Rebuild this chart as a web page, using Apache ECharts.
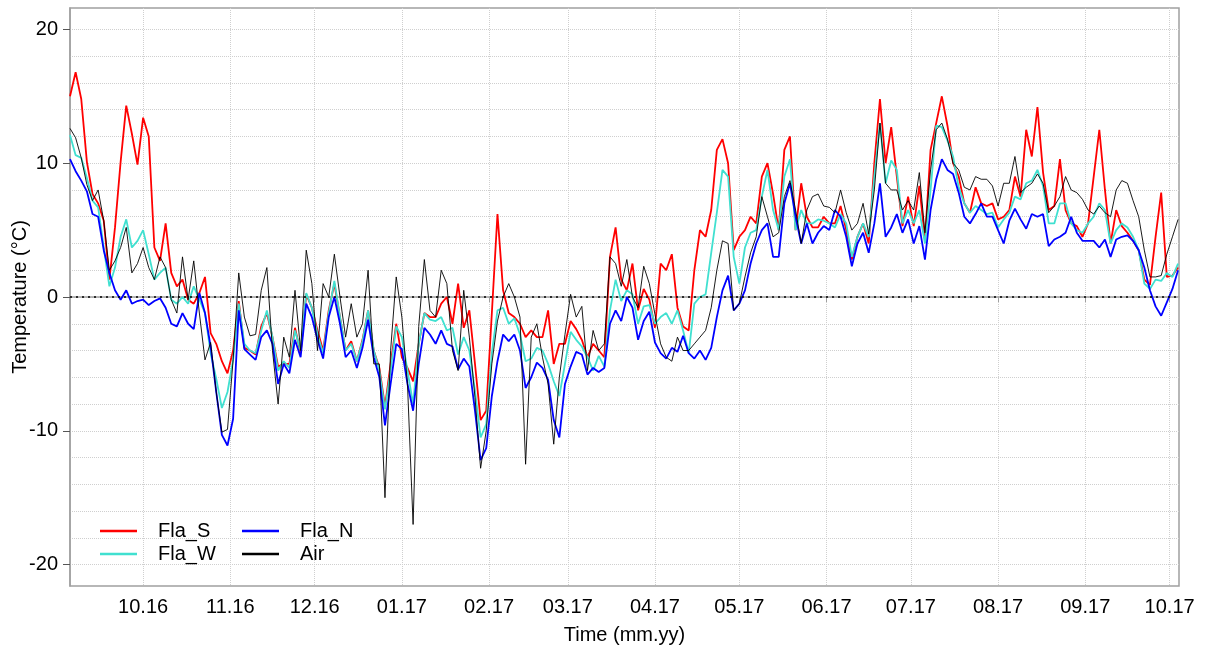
<!DOCTYPE html>
<html>
<head>
<meta charset="utf-8">
<script src="https://cdn.jsdelivr.net/npm/echarts@6/dist/echarts.min.js"></script>
<style>
  html, body { margin: 0; padding: 0; background: #fff; }
  #chart { width: 1205px; height: 649px; }
</style>
</head>
<body>
<div id="chart"></div>
<script>
// daily means, one reading every 2 days starting 05.09.2016
const startDay = Date.UTC(2016, 8, 5);
const endDay = Date.UTC(2017, 9, 4, 8);
const stepDays = 2;

const flaS = [
  15, 16.8, 14.8, 10.1, 7.7, 7, 5.7, 1.3, 5.2, 10.1,
  14.3, 12.2, 9.9, 13.4, 12, 3.7, 2.7, 5.5, 1.8, 0.8,
  1.3, -0.2, -0.5, 0.3, 1.5, -2.7, -3.5, -4.8, -5.7, -4,
  -0.3, -3.8, -4, -4.3, -2.2, -1.2, -3, -5.2, -5, -5,
  -2.3, -4.2, 0.2, -0.8, -2.5, -4, -1, 1, -1.5, -4,
  -3.3, -4.8, -3.2, -1, -4, -5.3, -8.2, -5, -2, -4.5,
  -5.3, -6.3, -3.5, -1.2, -1.5, -1.5, -0.5, 0, -2, 1,
  -2.3, -1, -5, -9.2, -8.5, -1.2, 6.2, 0.5, -1.2, -1.5,
  -2, -3, -2.5, -3, -3, -1, -5, -3.5, -3.5, -1.8,
  -2.4, -3.2, -4.5, -3.5, -4, -4.5, 3, 5.2, 1.3, 0.5,
  2.5, -1, 0.6, -0.2, -2.3, 2.5, 2, 3.2, -0.8, -2.2,
  -2.5, 2, 5, 4.5, 6.5, 11, 11.8, 10, 3.5, 4.5,
  5, 6, 5.5, 9, 10, 7.7, 5, 11, 12, 5,
  8.5, 6, 5.2, 5.2, 6, 5.5, 5.5, 6.8, 5, 2.8,
  4.5, 5.5, 4, 10, 14.8, 10, 12.7, 9, 5.3, 7.5,
  5.3, 8.3, 4.3, 11, 13, 15, 12.8, 10, 9, 7,
  6.3, 8.2, 7, 6.8, 7, 5.8, 6, 6.5, 9, 7.5,
  12.5, 10.5, 14.2, 9.3, 6.5, 6.8, 10.3, 6.5, 5.5, 5.3,
  4.5, 5.5, 9, 12.5, 8, 4, 6.5, 5.3, 4.8, 4.2,
  3.5, 1.3, 0.9, 4.5, 7.8, 1.5, 1.6, 2.2
];

const flaW = [
  12.1, 10.6, 10.4, 8.9, 7.2, 6.7, 3.7, 0.8, 2.2, 4.5,
  5.8, 3.7, 4.2, 5, 3.2, 1.3, 1.8, 2.2, -0.2, -0.5,
  0, -0.5, 0.8, -0.2, -1.2, -4.2, -6.1, -8.3, -7.1, -4.7,
  -0.5, -3.5, -4, -4.2, -2.5, -1, -3, -5.5, -4.8, -5.3,
  -2.5, -4, 0.3, -0.8, -2.8, -4.2, -1.2, 1.2, -1.5, -4,
  -3.5, -4.8, -3.3, -1, -4, -5.5, -8.4, -5.5, -2.2, -3,
  -5.5, -8, -3.5, -1.2, -1.7, -1.8, -1.5, -2.5, -2.3, -4.3,
  -3, -4, -7, -10.5, -9.5, -4.2, -1, -0.8, -2, -1.6,
  -2.8, -4.8, -4.6, -3.8, -4, -5, -6.3, -7.4, -5, -2.6,
  -3.2, -3.7, -4.5, -5.5, -4.4, -5.2, -1, 1.3, -0.3, 0.5,
  0.2, -2, -0.7, -0.6, -2, -1.5, -1.2, -2, -1, -2.5,
  -4.2, -0.5, 0, 0.2, 3.3, 6.3, 9.5, 9, 3, 1,
  3.7, 4.8, 5, 7.5, 9.5, 6.5, 5, 9, 10.3, 5,
  6.5, 5.5, 5.5, 5.8, 5.7, 5.5, 5.2, 6.2, 5.5, 3,
  4.5, 5.5, 4.5, 9, 13, 8.5, 10.2, 9.5, 5.5, 6.5,
  5.5, 6.5, 4, 8, 12.8, 12.7, 11.7, 10.5, 8.2, 7,
  6.3, 6.8, 6.5, 6.2, 6.3, 5.2, 5.8, 6.3, 7.5, 7.3,
  8.5, 8.7, 9.5, 8.3, 5.5, 5.5, 7, 7, 5.5, 5,
  4.8, 5.5, 6, 7, 6.5, 4, 5, 5.5, 5.2, 4.5,
  3.5, 1, 0.6, 1.3, 1.2, 1.8, 1.5, 2.5
];

const flaN = [
  10.3, 9.4, 8.7, 7.9, 6.2, 6, 3.5, 1.8, 0.5, -0.2,
  0.5, -0.5, -0.3, -0.2, -0.6, -0.3, -0.1, -0.8, -2, -2.2,
  -1.2, -2, -2.4, 0.3, -1.2, -3.7, -7.1, -10.3, -11.1, -9.1,
  -1, -3.9, -4.3, -4.7, -3, -2.5, -3.5, -6.5, -5, -5.7,
  -3.2, -4.5, -0.5, -1.5, -3.2, -4.6, -1.5, 0, -2, -4.5,
  -4, -5.3, -3.8, -1.7, -4.5, -6, -9.6, -6.5, -3.5, -3.9,
  -6.5, -8.5, -5, -2.3, -2.8, -3.5, -2.5, -3.5, -3.7, -5.4,
  -4.6, -5.2, -8.5, -12.2, -11.3, -7.4, -4.8, -2.8, -3.3, -2.8,
  -4, -6.8, -6, -4.9, -5.3, -6.2, -9.2, -10.5, -6.5, -5.2,
  -4.1, -4.3, -5.8, -5.3, -5.6, -5.3, -2, -1, -1.8, 0,
  -0.8, -3.2, -1.8, -1.1, -3.4, -4.2, -4.6, -3.8, -4.1, -2.9,
  -4.2, -4.6, -4, -4.7, -3.8, -1.5, 0.5, 1.6, -1, -0.5,
  0.5, 2.5, 4, 5, 5.5, 3, 3, 7, 8.5, 6,
  4, 5.5, 4, 4.8, 5.3, 5, 6.5, 6, 4.5, 2.3,
  4, 4.8, 3.3, 5.5, 8.5, 4.5, 5.2, 6.2, 4.8, 5.8,
  4, 5.3, 2.8, 6.5, 8.8, 10.3, 9.5, 9.2, 7.8, 6,
  5.5, 6.2, 7, 6, 6, 5, 4, 5.7, 6.6, 5.8,
  5.1, 6.2, 6, 6.2, 3.8, 4.3, 4.5, 4.8, 6, 4.8,
  4.2, 4.2, 4.2, 3.7, 4.3, 3, 4.3, 4.5, 4.6, 4.2,
  3.5, 2.2, 0.5, -0.7, -1.4, -0.4, 0.6, 2
];

const air = [
  12.6, 11.9, 10.4, 8.4, 7.2, 8, 5.7, 2, 2.7, 3.7,
  5.2, 1.8, 2.5, 3.7, 2.2, 1.3, 3, 2.2, -0.2, -1.2,
  3, -0.2, 2.7, -1.2, -4.7, -3.4, -7.1, -10.1, -9.9, -4.7,
  1.8, -1.5, -2.9, -2.8, 0.5, 2.2, -4, -8, -3, -4.5,
  0.5, -4, 3.5, 1, -4, 1, 0, 3.2, 0, -3,
  -0.5, -3, -2, 2, -5, -5, -15, -4, 1.5, -1.5,
  -6.5, -17, -2.2, 2.8, -1, -1.5, 2, 1, -4, -5.5,
  0.5, -3, -7.5, -12.8, -10, -5, -1.8, 0, 1, 0,
  -1.5, -12.5, -3, -2, -4.5, -6.5, -11, -6, -2.8, 0.2,
  -1.5, -0.7, -5.5, -2.5, -4, -3.5, 3, 2.5, 0.8, 2.8,
  0, -0.8, 2.3, 1, -1.3, -3.5, -4.5, -4.8, -3, -4,
  -4, -3.5, -3, -2.5, -0.8, 2, 4.2, 4, -1, -0.5,
  1.5, 3.3, 4.5, 7.5, 6, 4.5, 4.8, 7.5, 8.7, 6.5,
  4, 6.5, 7.5, 7.7, 6.8, 6.7, 6.3, 8, 6.3, 5,
  5.5, 7, 4.7, 8, 13, 8.5, 8, 8, 6.5, 7.2,
  6.5, 9.3, 4.8, 9.5, 12.5, 13, 11.8, 10, 9.5, 8.2,
  8, 9, 8.8, 8.8, 8.3, 6.8, 8.5, 8.5, 10.5, 7.8,
  8.2, 8.5, 9.2, 8.5, 6.3, 6.8, 7.5, 9, 8, 7.8,
  7.3, 6.5, 6.2, 6.8, 6.3, 6, 8, 8.7, 8.5, 7.2,
  6, 3.5, 1.5, 1.5, 1.6, 3.2, 4.5, 5.8
];

// month ticks (year, month index)
const monthTicks = [
  [2016, 9], [2016, 10], [2016, 11], [2017, 0], [2017, 1], [2017, 2], [2017, 3],
  [2017, 4], [2017, 5], [2017, 6], [2017, 7], [2017, 8], [2017, 9]
];
const yLabels = [-20, -10, 0, 10, 20];
const yGrid = [-20, -18, -16, -14, -12, -10, -8, -6, -4, -2, 0, 2, 4, 6, 8, 10, 12, 14, 16, 18, 20];

const font = "'Liberation Sans', Arial, sans-serif";
const frameColor = '#a0a0a0';
const gridColor = '#cfcfcf';

const DAY = 86400000;
const xTicks = monthTicks.map(m => Date.UTC(m[0], m[1], 1));
const toPairs = arr => arr.map((v, i) => [startDay + i * stepDays * DAY, v]);

function monthLabel(v) {
  const d = new Date(v);
  const mm = String(d.getUTCMonth() + 1).padStart(2, '0');
  const yy = String(d.getUTCFullYear()).slice(2);
  return mm + '.' + yy;
}

const chart = echarts.init(document.getElementById('chart'), null, { renderer: 'canvas' });

// legend: two columns, plain line keys
const legendBase = {
  orient: 'vertical',
  top: 521,
  padding: 0,
  icon: 'rect',
  itemWidth: 37,
  itemHeight: 2.5,
  itemGap: 3,
  selectedMode: false,
  formatter: name => '{t|' + name + '}',
  textStyle: {
    color: '#000',
    fontFamily: font,
    fontSize: 20,
    rich: { t: { fontFamily: font, fontSize: 20, color: '#000', padding: [0, 0, 0, 16] } }
  }
};

const lineSeries = (name, data, color, width) => ({
  name: name,
  type: 'line',
  data: toPairs(data),
  symbol: 'none',
  showSymbol: false,
  lineStyle: { color: color, width: width },
  itemStyle: { color: color },
  emphasis: { disabled: true }
});

const option = {
  animation: false,
  backgroundColor: '#fff',
  grid: {
    left: 70, top: 8, width: 1109, height: 578,
    show: true, borderColor: frameColor, borderWidth: 1.5,
    containLabel: false,
    outerBoundsMode: 'none'
  },
  legend: [
    Object.assign({}, legendBase, { left: 100, data: ['Fla_S', 'Fla_W'] }),
    Object.assign({}, legendBase, { left: 242, data: ['Fla_N', 'Air'] })
  ],
  xAxis: {
    type: 'value',
    min: startDay,
    max: endDay,
    name: 'Time (mm.yy)',
    nameLocation: 'middle',
    nameGap: 39,
    nameMoveOverlap: false,
    nameTextStyle: { color: '#000', fontFamily: font, fontSize: 20 },
    axisLine: { show: true, lineStyle: { color: frameColor, width: 1.5 } },
    axisTick: { show: true, customValues: xTicks, length: 5, lineStyle: { color: frameColor } },
    axisLabel: {
      customValues: xTicks, formatter: monthLabel, margin: 11,
      color: '#000', fontFamily: font, fontSize: 20
    },
    splitLine: { show: true, lineStyle: { color: gridColor, type: 'dotted', width: 1 } }
  },
  yAxis: [
    {
      type: 'value', min: -21.6, max: 21.6, position: 'left',
      axisLine: { show: false },
      axisTick: { show: false, customValues: yGrid },
      axisLabel: { show: false, customValues: yGrid },
      splitLine: { show: true, lineStyle: { color: gridColor, type: 'dotted', width: 1 } }
    },
    {
      type: 'value', min: -21.6, max: 21.6, position: 'left',
      name: 'Temperature (°C)',
      nameLocation: 'middle',
      nameGap: 39.5,
      nameMoveOverlap: false,
      nameTextStyle: { color: '#000', fontFamily: font, fontSize: 20 },
      axisLine: { show: true, lineStyle: { color: frameColor, width: 1.5 } },
      axisTick: { show: true, customValues: yLabels, length: 7, lineStyle: { color: '#555' } },
      axisLabel: { customValues: yLabels, margin: 12, color: '#000', fontFamily: font, fontSize: 20 },
      splitLine: { show: false }
    }
  ],
  series: [
    Object.assign(lineSeries('Fla_S', flaS, '#ff0000', 1.8), {
      markLine: {
        silent: true,
        symbol: ['none', 'none'],
        label: { show: false },
        lineStyle: { color: '#000', type: [2, 4], width: 1.5 },
        data: [{ yAxis: 0 }]
      }
    }),
    lineSeries('Fla_W', flaW, '#40e0d0', 1.8),
    lineSeries('Fla_N', flaN, '#0000ff', 1.8),
    lineSeries('Air', air, '#000000', 0.9)
  ]
};

chart.setOption(option);
</script>
</body>
</html>
